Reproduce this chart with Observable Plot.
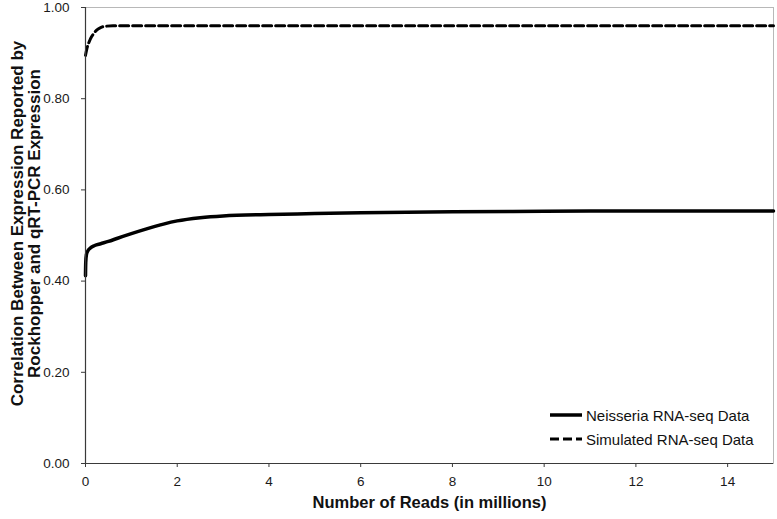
<!DOCTYPE html>
<html>
<head>
<meta charset="utf-8">
<script src="https://cdn.jsdelivr.net/npm/d3@7"></script>
<script src="https://cdn.jsdelivr.net/npm/@observablehq/plot@0.6"></script>
<style>
  html, body { margin: 0; padding: 0; background: #fff; }
  #wrap { position: relative; width: 777px; height: 519px; font-family: "Liberation Sans", Arial, sans-serif; }
  #legend { position: absolute; left: 549px; top: 403px; font-size: 15px; color: #111; }
  #legend .row { display: flex; align-items: center; height: 24px; }
  #legend svg { margin-right: 3px; }
</style>
</head>
<body>
<div id="wrap"><div id="chart"></div><div id="legend"></div></div>
<script>
// Data
const seriesNames = ["Neisseria RNA-seq Data", "Simulated RNA-seq Data"];

const neisseriaReads = [0, 0.005, 0.02, 0.05, 0.1, 0.2, 0.33, 0.5, 0.7, 1.0, 1.35, 1.7, 2.0, 2.5, 3.0, 4.0, 5.0, 6.0, 8.0, 10.0, 12.0, 15.0];
const neisseriaCorr  = [0.412, 0.44, 0.458, 0.466, 0.472, 0.478, 0.482, 0.487, 0.494, 0.504, 0.515, 0.525, 0.532, 0.539, 0.543, 0.546, 0.548, 0.550, 0.552, 0.553, 0.554, 0.554];

const simulatedReads = [0, 0.03, 0.07, 0.11, 0.18, 0.25, 0.33, 0.45, 0.6, 1.0, 15.0];
const simulatedCorr  = [0.895, 0.91, 0.922, 0.932, 0.943, 0.951, 0.956, 0.959, 0.96, 0.96, 0.96];

const xTicks = [0, 2, 4, 6, 8, 10, 12, 14];
const yTicks = [0, 0.2, 0.4, 0.6, 0.8, 1.0];

const xTitle = "Number of Reads (in millions)";
const yTitle = "Correlation Between Expression Reported by\nRockhopper and qRT-PCR Expression";

const neisseria = neisseriaReads.map((x, i) => ({x, y: neisseriaCorr[i]}));
const simulated = simulatedReads.map((x, i) => ({x, y: simulatedCorr[i]}));

const font = "'Liberation Sans', Arial, sans-serif";
const axisColor = "#3a3a3a";

const chart = Plot.plot({
  width: 777,
  height: 519,
  marginLeft: 85,
  marginRight: 4,
  marginTop: 7,
  marginBottom: 56,
  style: {fontFamily: font, fontSize: "13.5px", color: "#1a1a1a", background: "#fff"},
  x: {domain: [0, 15]},
  y: {domain: [0, 1]},
  marks: [
    Plot.frame({stroke: "#b8b8b8", strokeWidth: 1}),
    Plot.line(neisseria, {x: "x", y: "y", stroke: "#000", strokeWidth: 3.5, curve: "monotone-x"}),
    Plot.line(simulated, {x: "x", y: "y", stroke: "#000", strokeWidth: 3, strokeDasharray: "9,4", curve: "monotone-x"}),
    Plot.ruleX([0], {stroke: axisColor, strokeWidth: 1.2}),
    Plot.ruleY([0], {stroke: axisColor, strokeWidth: 1.2}),
    Plot.axisY({ticks: yTicks, tickFormat: d3.format(".2f"), tickSize: 4, tickPadding: 12, stroke: axisColor, label: null}),
    Plot.axisX({ticks: xTicks, tickFormat: d3.format("d"), tickSize: 4, tickPadding: 9, stroke: axisColor, label: null}),
    Plot.text([xTitle], {frameAnchor: "bottom", text: d => d, dy: 44, fontSize: 16.5, fontWeight: "bold", fill: "#111"}),
    Plot.text([yTitle], {frameAnchor: "left", text: d => d, rotate: -90, textAnchor: "middle", lineAnchor: "middle", dx: -59, dy: -12, fontSize: 17, fontWeight: "bold", lineHeight: 1.0, fill: "#111"})
  ]
});
document.getElementById("chart").appendChild(chart);

// Legend (inside the plot, bottom right)
const legend = d3.select("#legend");
const styles = [{dash: null, w: 3.5}, {dash: "9,4", w: 3}];
seriesNames.forEach((name, i) => {
  const row = legend.append("div").attr("class", "row");
  const svg = row.append("svg").attr("width", 34).attr("height", 10);
  svg.append("line").attr("x1", 1).attr("x2", 33).attr("y1", 5).attr("y2", 5)
    .attr("stroke", "#000").attr("stroke-width", styles[i].w)
    .attr("stroke-dasharray", styles[i].dash);
  row.append("span").text(name);
});
</script>
</body>
</html>
